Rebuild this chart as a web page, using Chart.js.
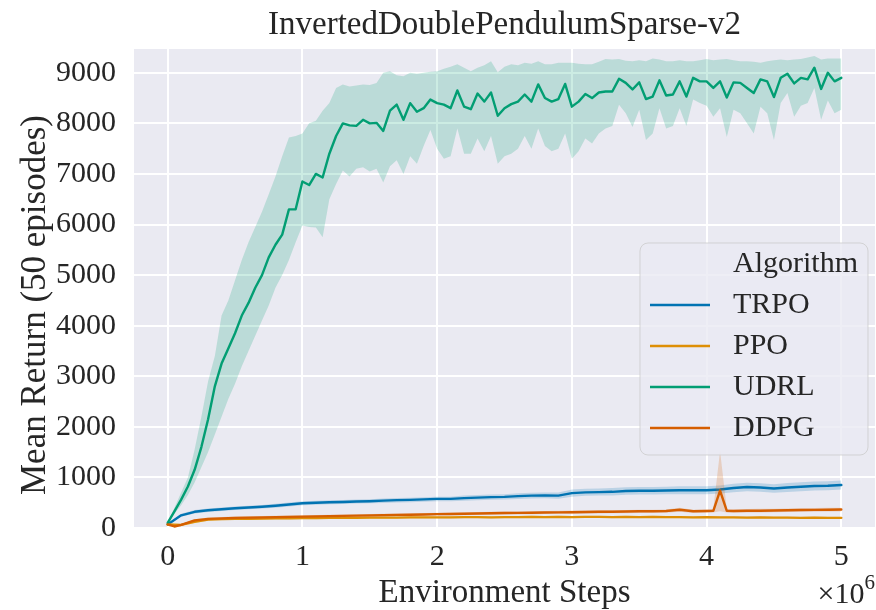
<!DOCTYPE html>
<html><head><meta charset="utf-8">
<script src="https://cdn.jsdelivr.net/npm/chart.js@4.4.0/dist/chart.umd.min.js"></script>
<style>html,body{margin:0;padding:0;background:#fff;}canvas{display:block;}</style>
</head><body>
<canvas id="c" width="876" height="610"></canvas>
<script>
// ---------- data ----------
const chartTitle = 'InvertedDoublePendulumSparse-v2';
const xAxisTitle = 'Environment Steps';
const yAxisTitle = 'Mean Return (50 episodes)';
const legendTitle = 'Algorithm';
const algorithms = ['TRPO', 'PPO', 'UDRL', 'DDPG'];
const xTicks = [0, 1, 2, 3, 4, 5];
const yTicks = [0, 1000, 2000, 3000, 4000, 5000, 6000, 7000, 8000, 9000];

// environment steps in units of 1e6
const stepsFine = [0,0.05,0.1,0.15,0.2,0.25,0.3,0.35,0.4,0.45,0.5,0.55,0.6,0.65,0.7,0.75,0.8,0.85,0.9,0.95,
  1,1.05,1.1,1.15,1.2,1.25,1.3,1.35,1.4,1.45,1.5,1.55,1.6,1.65,1.7,1.75,1.8,1.85,1.9,1.95,
  2,2.05,2.1,2.15,2.2,2.25,2.3,2.35,2.4,2.45,2.5,2.55,2.6,2.65,2.7,2.75,2.8,2.85,2.9,2.95,
  3,3.05,3.1,3.15,3.2,3.25,3.3,3.35,3.4,3.45,3.5,3.55,3.6,3.65,3.7,3.75,3.8,3.85,3.9,3.95,
  4,4.05,4.1,4.15,4.2,4.25,4.3,4.35,4.4,4.45,4.5,4.55,4.6,4.65,4.7,4.75,4.8,4.85,4.9,4.95,5];
const stepsCoarse = [0,0.1,0.2,0.3,0.4,0.5,0.6,0.7,0.8,0.9,1,1.1,1.2,1.3,1.4,1.5,1.6,1.7,1.8,1.9,
  2,2.1,2.2,2.3,2.4,2.5,2.6,2.7,2.8,2.9,3,3.1,3.2,3.3,3.4,3.5,3.6,3.7,3.8,3.9,
  4,4.1,4.2,4.3,4.4,4.5,4.6,4.7,4.8,4.9,5];
const stepsDDPG = [0,0.05,0.1,0.2,0.3,0.4,0.5,0.6,0.7,0.8,0.9,1,1.1,1.2,1.3,1.4,1.5,1.6,1.7,1.8,1.9,
  2,2.1,2.2,2.3,2.4,2.5,2.6,2.7,2.8,2.9,3,3.1,3.2,3.3,3.4,3.5,3.6,3.7,3.8,3.9,
  4,4.05,4.1,4.15,4.2,4.3,4.4,4.5,4.6,4.7,4.8,4.9,5];

const trpoMean  = [70,250,320,350,370,390,405,420,440,465,490,500,510,515,525,530,540,550,555,565,575,575,590,600,610,615,630,640,645,640,690,705,710,715,730,735,735,740,745,745,745,760,790,810,800,780,800,815,830,835,850];
const trpoUpper = [70,280,355,385,405,425,440,455,480,505,530,540,550,555,565,570,585,595,600,610,620,620,640,650,660,665,685,695,700,700,760,775,780,790,805,810,810,815,825,825,825,840,875,895,885,865,890,905,920,925,940];
const trpoLower = [70,220,285,315,335,355,370,385,400,425,450,460,470,475,485,490,495,505,510,520,530,530,540,550,560,565,575,585,590,580,620,635,640,640,655,660,660,665,665,665,665,680,705,725,715,695,710,725,740,745,760];

const ppoMean  = [70,60,120,165,175,180,180,185,190,190,195,195,200,200,200,205,205,205,210,210,210,210,215,215,210,215,215,220,215,220,215,220,220,215,220,215,220,215,215,210,215,210,210,205,210,205,205,200,205,200,200];
const ppoUpper = [70,75,140,185,195,200,200,205,210,210,215,215,220,220,220,225,225,225,230,230,230,230,235,235,230,235,235,240,235,240,235,240,240,235,240,235,240,235,235,230,235,230,230,225,230,225,225,220,225,220,220];
const ppoLower = [70,45,100,145,155,160,160,165,170,170,175,175,180,180,180,185,185,185,190,190,190,190,195,195,190,195,195,200,195,200,195,200,200,195,200,195,200,195,195,190,195,190,190,185,190,185,185,180,185,180,180];

const udrlMean = [100,330,560,820,1150,1600,2150,2800,3250,3550,
  3850,4200,4450,4750,5000,5350,5600,5800,6300,6300,
  6850,6780,7000,6930,7400,7750,8000,7960,7950,8070,
  8000,8010,7850,8250,8370,8070,8400,8230,8300,8470,
  8400,8370,8300,8650,8330,8280,8590,8430,8610,8150,
  8300,8380,8430,8570,8430,8770,8500,8430,8480,8780,
  8330,8430,8580,8500,8610,8630,8630,8880,8800,8670,
  8810,8480,8530,8850,8550,8570,8830,8530,8900,8830,
  8830,8700,8830,8510,8810,8800,8700,8600,8870,8830,
  8520,8900,8980,8790,8900,8870,9100,8680,9000,8830,
  8900];
const udrlUpper = [100,400,700,1000,1550,2200,2900,3400,4200,4500,
  4900,5300,5650,5950,6250,6600,6950,7350,7720,7750,
  7800,8000,8050,8250,8400,8700,8770,8730,8750,8770,
  8760,8800,9000,9030,8950,8930,9000,8980,9000,9020,
  9030,9080,9120,9170,9100,9030,9100,9150,9230,9010,
  9120,9170,9150,9200,9180,9230,9170,9170,9200,9200,
  9200,9180,9170,9170,9220,9270,9260,9270,9240,9230,
  9250,9230,9280,9260,9230,9230,9250,9230,9230,9250,
  9270,9250,9260,9270,9250,9230,9230,9220,9200,9230,
  9250,9260,9250,9260,9270,9300,9330,9260,9280,9280,
  9280];
const udrlLower = [100,280,450,650,900,1200,1500,1850,2200,2550,
  2850,3200,3500,3800,4100,4400,4750,5000,5300,5650,
  5980,5950,5940,5750,6500,6800,7070,6950,7100,7130,
  7050,7100,6830,7150,7270,7000,7350,7200,7550,7870,
  7500,7300,7350,7900,7400,7400,7700,7450,7750,7200,
  7350,7400,7500,7750,7500,7900,7550,7450,7500,7800,
  7300,7450,7700,7600,7800,7900,7950,8370,8200,7930,
  8270,7670,7800,8300,7900,7950,8300,7950,8470,8400,
  8350,8130,8300,7730,8270,8200,8000,7800,8330,8200,
  7670,8400,8600,8130,8350,8400,8700,8070,8450,8200,
  8270];

const ddpgMean  = [70,30,60,150,180,190,200,205,210,215,220,225,230,235,240,245,250,255,260,262,268,275,278,282,285,290,295,298,300,305,308,312,315,320,322,325,330,330,335,360,330,335,340,740,340,335,340,342,345,350,355,358,362,365];
const ddpgUpper = [70,45,80,175,205,215,225,230,235,240,245,250,255,262,268,272,278,283,288,290,296,303,306,310,315,320,325,328,330,335,340,345,348,352,355,358,363,363,368,400,363,368,375,1520,375,368,375,378,380,385,390,395,400,402];
const ddpgLower = [70,15,40,125,155,165,175,180,185,190,195,200,205,208,212,218,222,227,232,234,240,247,250,254,255,260,265,268,270,275,276,279,282,288,289,292,297,297,302,320,297,302,305,330,305,302,305,306,310,315,320,321,324,328];

// ---------- styling ----------
const colors = ['#0173B2', '#DE8F05', '#029E73', '#D55E00'];
const bandColors = ['rgba(1,115,178,0.2)', 'rgba(222,143,5,0.2)', 'rgba(2,158,115,0.2)', 'rgba(213,94,0,0.2)'];
const FONT = "'Liberation Serif', 'Times New Roman', serif";
const TXT = '#262626';
const LW = 2.4;

const series = [
  {x: stepsCoarse, m: trpoMean, u: trpoUpper, l: trpoLower},
  {x: stepsCoarse, m: ppoMean, u: ppoUpper, l: ppoLower},
  {x: stepsFine, m: udrlMean, u: udrlUpper, l: udrlLower},
  {x: stepsDDPG, m: ddpgMean, u: ddpgUpper, l: ddpgLower}
];
const pts = (xs, ys) => xs.map((x, i) => ({x: x, y: ys[i]}));

const datasets = [];
series.forEach((s, k) => {
  const base = (3 - k) * 3;
  datasets.push({label: algorithms[k] + ' lower', data: pts(s.x, s.l), borderWidth: 0, borderColor: 'rgba(0,0,0,0)',
    pointRadius: 0, fill: false, order: base + 2});
  datasets.push({label: algorithms[k] + ' upper', data: pts(s.x, s.u), borderWidth: 0, borderColor: 'rgba(0,0,0,0)',
    backgroundColor: bandColors[k], pointRadius: 0, fill: '-1', order: base + 1});
  datasets.push({label: algorithms[k], data: pts(s.x, s.m), borderWidth: LW, borderColor: colors[k],
    pointRadius: 0, fill: false, tension: 0, order: base, borderJoinStyle: 'round', borderCapStyle: 'round'});
});

const bgPlugin = {
  id: 'bg',
  beforeDraw(chart) {
    const {ctx, chartArea: a} = chart;
    ctx.save();
    ctx.fillStyle = '#ffffff';
    ctx.fillRect(0, 0, chart.width, chart.height);
    ctx.fillStyle = '#EAEAF2';
    ctx.fillRect(a.left, a.top, a.right - a.left, a.bottom - a.top);
    ctx.restore();
  }
};

const extraPlugin = {
  id: 'extra',
  afterDraw(chart) {
    const {ctx, chartArea: a} = chart;
    ctx.save();
    // y axis title
    ctx.save();
    ctx.translate(36, 305);
    ctx.rotate(-Math.PI / 2);
    ctx.font = '35px ' + FONT;
    ctx.fillStyle = TXT;
    ctx.textAlign = 'center';
    ctx.textBaseline = 'middle';
    ctx.fillText(yAxisTitle, 0, 0);
    ctx.restore();

    // offset text x10^6
    ctx.fillStyle = TXT;
    ctx.textBaseline = 'alphabetic';
    const sup = '6';
    ctx.font = '21px ' + FONT;
    const wSup = ctx.measureText(sup).width;
    ctx.font = '30px ' + FONT;
    const main = '\u00d710';
    const wMain = ctx.measureText(main).width;
    const right = a.right;
    ctx.textAlign = 'left';
    ctx.fillText(main, right - wSup - wMain, 603);
    ctx.font = '21px ' + FONT;
    ctx.fillText(sup, right - wSup, 589);

    // legend
    const bx = 640, by = 243, bw = 228, bh = 212, r = 8;
    ctx.beginPath();
    ctx.moveTo(bx + r, by);
    ctx.lineTo(bx + bw - r, by);
    ctx.arcTo(bx + bw, by, bx + bw, by + r, r);
    ctx.lineTo(bx + bw, by + bh - r);
    ctx.arcTo(bx + bw, by + bh, bx + bw - r, by + bh, r);
    ctx.lineTo(bx + r, by + bh);
    ctx.arcTo(bx, by + bh, bx, by + bh - r, r);
    ctx.lineTo(bx, by + r);
    ctx.arcTo(bx, by, bx + r, by, r);
    ctx.closePath();
    ctx.fillStyle = 'rgba(234,234,242,0.8)';
    ctx.fill();
    ctx.strokeStyle = 'rgba(204,204,204,0.8)';
    ctx.lineWidth = 1;
    ctx.stroke();

    ctx.font = '30px ' + FONT;
    ctx.textBaseline = 'middle';
    ctx.textAlign = 'left';
    ctx.fillStyle = TXT;
    const tx = 733, y0 = 264, dy = 41;
    ctx.fillText(legendTitle, tx, y0);
    algorithms.forEach((name, k) => {
      const y = y0 + dy * (k + 1);
      ctx.beginPath();
      ctx.moveTo(650, y);
      ctx.lineTo(710, y);
      ctx.strokeStyle = colors[k];
      ctx.lineWidth = LW;
      ctx.stroke();
      ctx.fillStyle = TXT;
      ctx.fillText(name, tx, y);
    });
    ctx.restore();
  }
};

new Chart(document.getElementById('c'), {
  type: 'line',
  data: {datasets: datasets},
  plugins: [bgPlugin, extraPlugin],
  options: {
    responsive: false,
    animation: false,
    devicePixelRatio: 1,
    layout: {padding: {left: 0, right: 1, top: 0, bottom: 0}},
    plugins: {
      legend: {display: false},
      tooltip: {enabled: false},
      title: {display: true, text: chartTitle, color: TXT, fullSize: false,
        font: {family: FONT, size: 33, weight: 'normal', lineHeight: 1.2},
        padding: {top: 6, bottom: 3.4}}
    },
    scales: {
      x: {
        type: 'linear', min: -0.25, max: 5.25,
        afterBuildTicks: s => { s.ticks = xTicks.map(v => ({value: v})); },
        afterFit: s => { s.height = 81; },
        ticks: {color: TXT, font: {family: FONT, size: 30}, padding: 10, maxRotation: 0, autoSkip: false,
          callback: v => String(v)},
        grid: {color: '#ffffff', lineWidth: 2, drawTicks: false},
        border: {display: false},
        title: {display: true, text: xAxisTitle, color: TXT,
          font: {family: FONT, size: 33, weight: 'normal', lineHeight: 1}, padding: {top: 0, bottom: 0}}
      },
      y: {
        type: 'linear', min: -20, max: 9470,
        afterBuildTicks: s => { s.ticks = yTicks.map(v => ({value: v})); },
        afterFit: s => { s.width = 134; },
        ticks: {color: TXT, font: {family: FONT, size: 30}, padding: 18, autoSkip: false,
          callback: v => String(v)},
        grid: {color: '#ffffff', lineWidth: 2, drawTicks: false},
        border: {display: false},
        title: {display: false}
      }
    }
  }
});
</script>
</body></html>
